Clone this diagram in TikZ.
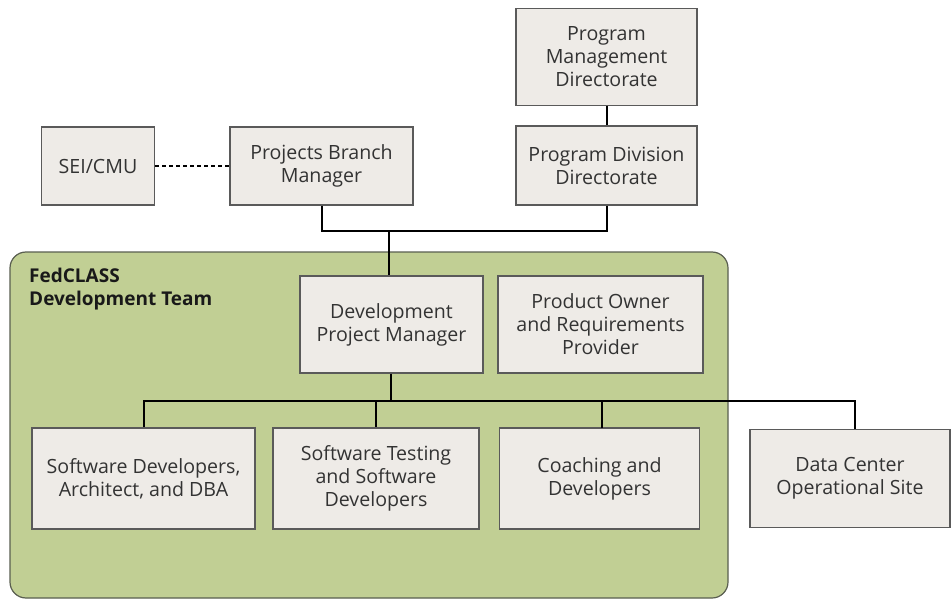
\documentclass[tikz,border=0pt]{standalone}
\usepackage{fontspec}
\setmainfont{Open Sans}
\definecolor{boxfill}{HTML}{EEEBE7}
\definecolor{boxline}{HTML}{5A5A5A}
\definecolor{teamfill}{HTML}{C1CF94}
\definecolor{teamline}{HTML}{5A5F50}
\definecolor{txt}{HTML}{333333}
\begin{document}
\begin{tikzpicture}[x=1pt,y=-1pt,
  orgbox/.style={draw=boxline,line width=1.2pt,fill=boxfill,align=center,
    text=txt,font=\fontsize{19.6}{23}\selectfont,inner sep=0pt},
  conn/.style={line width=2pt,draw=black}]
\useasboundingbox (0,0) rectangle (951,599);
\fill[white] (0,0) rectangle (951,599);
% team panel
\draw[fill=teamfill,draw=teamline,line width=1.2pt,rounded corners=16pt]
  (10,252) rectangle (728,598);
\node[anchor=north west,align=left,font=\bfseries\fontsize{19}{23}\selectfont,text=black!90,inner sep=0pt]
  (title) at (29,268) {FedCLASS\\Development Team};
% boxes
\newcommand{\obox}[6]{\node[orgbox,minimum width=#4pt,minimum height=#5pt] (#1) at (#2,#3) {#6};}
\obox{sei}{98}{166}{113}{78}{SEI/CMU}
\obox{pbm}{321.5}{166}{183}{78}{Projects Branch\\Manager}
\obox{pmd}{606.5}{57}{181}{97}{Program\\Management\\Directorate}
\obox{pdd}{606.5}{165.5}{181}{79}{Program Division\\Directorate}
\obox{dpm}{391.5}{324.5}{183}{97}{Development\\Project Manager}
\obox{po}{600.5}{324.5}{205}{97}{Product Owner\\and Requirements\\Provider}
\obox{sd}{143.5}{478.5}{223}{101}{Software Developers,\\Architect, and DBA}
\obox{st}{376}{478.5}{206}{101}{Software Testing\\and Software\\Developers}
\obox{cd}{599.5}{478.5}{200}{101}{Coaching and\\Developers}
\obox{dc}{850}{478.5}{200}{98}{Data Center\\Operational Site}
% connectors
\draw[line width=1.4pt,dash pattern=on 4pt off 3pt] (sei.east) -- (pbm.west);
\draw[conn] (pmd.south) -- (pdd.north);
\coordinate (top) at (389,231);
\coordinate (bus) at (391,401);
\coordinate (dcdrop) at (855,401);
\draw[conn] (pbm.south) |- (top);
\draw[conn] (pdd.south) |- (top);
\draw[conn] (top) -- (top |- dpm.north);
\draw[conn] (dpm.south -| bus) -- (bus);
\draw[conn] (bus) -| (sd.north);
\draw[conn] (bus) -- (dcdrop) -- (dcdrop |- dc.north);
\draw[conn] (bus -| st.north) -- (st.north);
\draw[conn] (bus -| 602,0) -- (602,428);
\end{tikzpicture}
\end{document}
